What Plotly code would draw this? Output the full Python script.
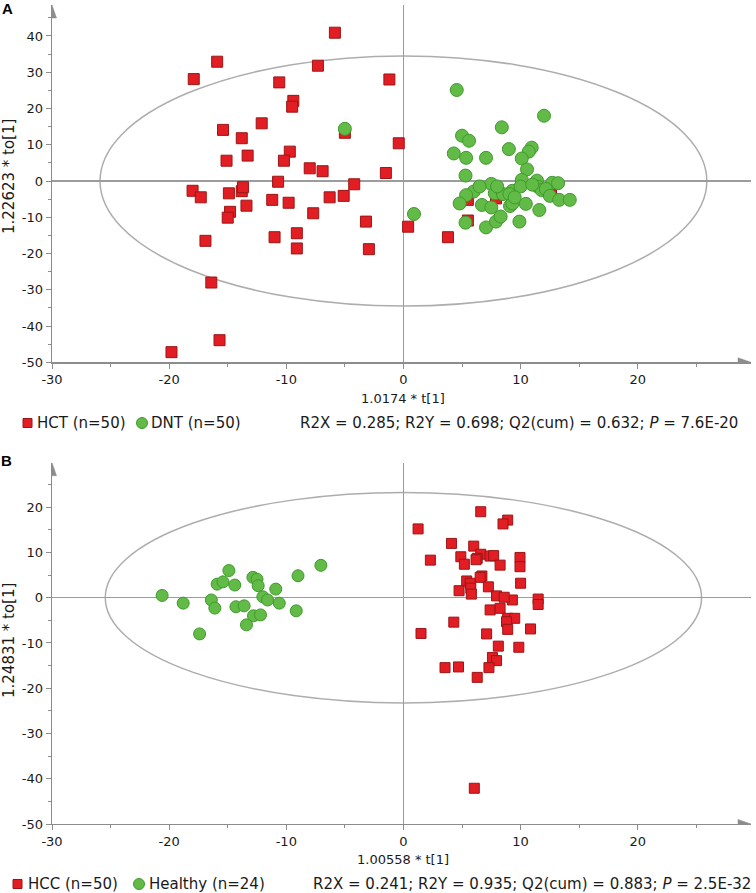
import plotly.graph_objects as go

# ---------------- data ----------------
hct_x = [-17.9, -15.9, -5.85, -7.3, -10.6, -9.4, -9.5, -1.2, -15.4, -12.1,
         -13.8, -13.3, -15.1, -9.7, -10.2, -8.0, -6.9, -1.5, -0.4, -5.0,
         -10.7, -4.2, -18.0, -17.3, -14.9, -13.8, -13.7, -14.8, -15.0, -13.4,
         -11.2, -9.8, -7.7, -6.3, -5.1, -3.2, -2.95, -16.9, -11.0, -9.1,
         -9.1, -16.4, -15.7, -19.8, 0.4, 3.8, 5.5, 7.9, 5.5, 12.6]
hct_y = [28.1, 32.9, 40.9, 31.8, 27.2, 22.1, 20.5, 28.0, 14.1, 15.9,
         11.8, 7.0, 5.6, 8.1, 5.6, 3.5, 2.7, 2.2, 10.4, 13.3,
         -0.2, -0.9, -2.7, -4.5, -3.4, -2.8, -1.7, -8.5, -10.1, -6.8,
         -5.2, -6.0, -8.9, -4.5, -4.1, -11.2, -18.8, -16.5, -15.5, -14.4,
         -18.6, -28.0, -43.9, -47.2, -12.6, -15.5, -5.2, -4.8, -10.9, -3.9]

dnt_x = [4.55, 12.0, 8.4, 5.0, 5.6, 4.3, 5.35, 7.05, 9.0, 10.95,
         10.7, 10.1, 10.55, 5.3, 10.1, 7.5, 11.4, 12.7, 13.2, -5.0,
         6.0, 5.35, 7.8, 8.5, 9.3, 9.05, 10.0, 11.5, 11.8, 12.15,
         12.5, 13.3, 14.2, 4.8, 6.7, 7.5, 9.1, 9.3, 10.45, 11.6,
         0.9, 5.3, 7.05, 7.9, 8.3, 9.9, 8.0, 9.5, 11.0, 6.5]
dnt_y = [25.1, 18.0, 14.8, 12.5, 11.1, 7.6, 6.4, 6.4, 8.8, 9.2,
         8.1, 6.2, 3.2, 1.5, 0.3, -0.8, 0.1, -0.5, -0.6, 14.4,
         -2.9, -3.9, -3.4, -3.6, -2.7, -3.6, -1.5, -1.6, -2.5, -2.2,
         -4.1, -5.2, -5.2, -6.2, -6.6, -7.3, -6.9, -6.2, -6.3, -8.0,
         -9.1, -11.5, -12.8, -11.2, -9.8, -11.2, -1.5, -4.5, -1.0, -1.5]

hcc_x = [6.6, 8.9, 8.5, 1.25, 4.1, 6.0, 4.9, 6.6, 6.3, 7.4,
         7.7, 5.2, 8.25, 9.95, 9.95, 2.3, 6.7, 6.55, 5.4, 5.7,
         10.0, 7.25, 4.75, 5.75, 5.8, 7.95, 9.3, 11.5, 11.5, 7.4,
         8.25, 8.9, 9.5, 8.8, 4.3, 8.9, 10.85, 1.5, 7.1, 8.1,
         9.85, 7.6, 7.95, 7.3, 3.55, 4.7, 6.3, 6.05, 6.2, 8.6]
hcc_y = [19.0, 17.15, 16.3, 15.2, 12.0, 11.4, 9.05, 9.6, 8.7, 9.2,
         9.3, 7.4, 7.2, 8.9, 6.85, 8.3, 4.8, 4.5, 3.7, 3.2,
         3.2, 2.4, 1.55, 2.1, 0.8, 0.4, -0.5, -0.3, -1.5, -2.7,
         -2.35, -4.55, -4.55, -5.3, -5.4, -7.0, -6.9, -7.9, -8.0, -10.7,
         -10.95, -13.2, -13.9, -15.45, -15.45, -15.3, -17.6, -42.1, 8.4, 0.1]

healthy_x = [-20.6, -18.8, -17.4, -16.4, -16.1, -15.9, -15.4, -14.9, -14.4, -14.3,
             -13.6, -12.8, -12.2, -13.4, -12.85, -12.5, -12.4, -12.0, -11.6, -10.6,
             -10.9, -9.15, -9.0, -7.05]
healthy_y = [0.5, -1.2, -8.0, -0.5, -2.3, 3.0, 3.5, 6.0, 2.8, -2.0,
             -1.8, -4.0, -3.8, -6.0, 4.5, 4.1, 2.65, 0.2, -0.5, -1.2,
             1.9, -2.9, 4.85, 7.15]

x_ticks = [-30, -20, -10, 0, 10, 20]
ya_ticks = [-50, -40, -30, -20, -10, 0, 10, 20, 30, 40]
yb_ticks = [-50, -40, -30, -20, -10, 0, 10, 20]

ellipse_a = (25.9, 34.5)   # Hotelling T2 semi-axes, panel A
ellipse_b = (25.45, 23.25)  # panel B

stats_a = "R2X = 0.285; R2Y = 0.698; Q2(cum) = 0.632; <i>P</i> = 7.6E-20"
stats_b = "R2X = 0.241; R2Y = 0.935; Q2(cum) = 0.883; <i>P</i> = 2.5E-32"

# ---------------- style ----------------
W, H = 756, 893
FONT = "DejaVu Sans"
RED, RED_EDGE = "#e21d23", "#9c1616"
GREEN, GREEN_EDGE = "#62bb46", "#3f9a2d"
AXIS_C = "#8c8c8c"
ZERO_C = "#9c9c9c"
ELL_C = "#adadad"

def px(x):
    return x / W

def py(y):
    return (H - y) / H

fig = go.Figure()

fig.add_trace(go.Scatter(x=hct_x, y=hct_y, mode="markers", xaxis="x", yaxis="y",
                         marker=dict(symbol="square", size=11, color=RED,
                                     line=dict(color=RED_EDGE, width=1)),
                         name="HCT (n=50)", showlegend=False))
fig.add_trace(go.Scatter(x=dnt_x, y=dnt_y, mode="markers", xaxis="x", yaxis="y",
                         marker=dict(symbol="circle", size=13, color=GREEN,
                                     line=dict(color=GREEN_EDGE, width=1)),
                         name="DNT (n=50)", showlegend=False))
fig.add_trace(go.Scatter(x=hcc_x, y=hcc_y, mode="markers", xaxis="x2", yaxis="y2",
                         marker=dict(symbol="square", size=10, color=RED,
                                     line=dict(color=RED_EDGE, width=1)),
                         name="HCC (n=50)", showlegend=False))
fig.add_trace(go.Scatter(x=healthy_x, y=healthy_y, mode="markers", xaxis="x2", yaxis="y2",
                         marker=dict(symbol="circle", size=12, color=GREEN,
                                     line=dict(color=GREEN_EDGE, width=1)),
                         name="Healthy (n=24)", showlegend=False))

xdom = [px(52), px(751)]
xrange_ = [-30, 29.67]
ya_dom = [py(362.3), py(5)]
ya_range = [-50, 48.54]
yb_dom = [py(824), py(462.7)]
yb_range = [-50, 29.83]

tickfont = dict(family=FONT, size=13, color="#1a1a1a")

def labels(vals):
    return [str(v) for v in vals]  # plain hyphen minus, as in the reference

def xax(anchor):
    return dict(domain=xdom, range=xrange_, anchor=anchor,
                tickmode="array", tickvals=x_ticks, ticktext=labels(x_ticks),
                showgrid=False, zeroline=True, zerolinecolor=ZERO_C, zerolinewidth=1.2,
                showline=True, linecolor=AXIS_C, linewidth=1.3,
                ticks="outside", ticklen=5, tickcolor=AXIS_C, tickwidth=1,
                minor=dict(dtick=5, tick0=0, ticks="outside", ticklen=3, tickcolor=AXIS_C, showgrid=False),
                tickfont=tickfont, fixedrange=True, automargin=False)

def yax(anchor, dom, rng, tv):
    return dict(domain=dom, range=rng, anchor=anchor,
                tickmode="array", tickvals=tv, ticktext=labels(tv),
                showgrid=False, zeroline=True, zerolinecolor=ZERO_C, zerolinewidth=1.2,
                showline=True, linecolor=AXIS_C, linewidth=1.3,
                ticks="outside", ticklen=5, tickcolor=AXIS_C, tickwidth=1,
                minor=dict(dtick=5, tick0=0, ticks="outside", ticklen=3, tickcolor=AXIS_C, showgrid=False),
                tickfont=tickfont, fixedrange=True, automargin=False)

fig.update_layout(
    width=W, height=H,
    margin=dict(l=0, r=0, t=0, b=0),
    paper_bgcolor="white", plot_bgcolor="white",
    font=dict(family=FONT, size=13, color="#1a1a1a"),
    showlegend=False,
    hovermode=False,
    xaxis=xax("y"),
    yaxis=yax("x", ya_dom, ya_range, ya_ticks),
    xaxis2=xax("y2"),
    yaxis2=yax("x2", yb_dom, yb_range, yb_ticks),
)

shapes = []
# Hotelling ellipses
for (xr, yr), (ax_x, ax_y) in [((ellipse_a), ("x", "y")), ((ellipse_b), ("x2", "y2"))]:
    shapes.append(dict(type="circle", xref=ax_x, yref=ax_y, x0=-xr, x1=xr, y0=-yr, y1=yr,
                       line=dict(color=ELL_C, width=1.5), layer="below"))

# axis arrowheads
for ax_x, ax_y, ytop in [("x", "y", ya_range[1]), ("x2", "y2", yb_range[1])]:
    shapes.append(dict(type="path", xref=ax_x, yref=ax_y, xsizemode="pixel", ysizemode="pixel",
                       xanchor=xrange_[1], yanchor=-50, path="M-13,-4.5 L0,0 L-13,4.5 Z",
                       fillcolor=AXIS_C, line=dict(color=AXIS_C, width=0.5)))
    shapes.append(dict(type="path", xref=ax_x, yref=ax_y, xsizemode="pixel", ysizemode="pixel",
                       xanchor=-30, yanchor=ytop, path="M-4.5,-13 L0,0 L4.5,-13 Z",
                       fillcolor=AXIS_C, line=dict(color=AXIS_C, width=0.5)))

# legend symbols
def leg_square(cx, cy, s):
    shapes.append(dict(type="rect", xref="paper", yref="paper",
                       x0=px(cx - s / 2), x1=px(cx + s / 2), y0=py(cy + s / 2), y1=py(cy - s / 2),
                       fillcolor=RED, line=dict(color=RED_EDGE, width=1)))

def leg_circle(cx, cy, d):
    shapes.append(dict(type="circle", xref="paper", yref="paper",
                       x0=px(cx - d / 2), x1=px(cx + d / 2), y0=py(cy + d / 2), y1=py(cy - d / 2),
                       fillcolor=GREEN, line=dict(color=GREEN_EDGE, width=1)))

leg_square(27.5, 423, 9)
leg_circle(142, 423, 11)
leg_square(17.5, 884, 9)
leg_circle(139, 884, 11)

fig.update_layout(shapes=shapes)

LEGF = dict(family=FONT, size=15, color="#1a1a1a")
ann = []
def text(x, y, s, xanchor="left", font=LEGF, **kw):
    ann.append(dict(x=px(x), y=py(y), xref="paper", yref="paper", text=s, showarrow=False,
                    xanchor=xanchor, yanchor="middle", font=font, borderpad=0, **kw))

# panel letters
text(1, 8, "<b>A</b>", font=dict(family="Liberation Sans", size=15, color="#000"))
text(0, 460, "<b>B</b>", font=dict(family="Liberation Sans", size=15, color="#000"))

# axis titles
TF = dict(family=FONT, size=13, color="#1a1a1a")
YTF = dict(family=FONT, size=15, color="#1a1a1a")
text(403.3, 398, "1.0174 * t[1]", xanchor="center", font=TF)
text(403.3, 859, "1.00558 * t[1]", xanchor="center", font=TF)
text(9, 177, "1.22623 * to[1]", xanchor="center", font=YTF, textangle=-90)
text(9, 641, "1.24831 * to[1]", xanchor="center", font=YTF, textangle=-90)

# legends
text(36, 423, "HCT (n=50)")
text(150, 423, "DNT (n=50)")
text(739, 423, stats_a, xanchor="right")
text(27, 884, "HCC (n=50)")
text(148, 884, "Healthy (n=24)")
text(752, 884, stats_b, xanchor="right")

fig.update_layout(annotations=ann)

fig.write_html("out.html",
               config={"displayModeBar": False, "staticPlot": True},
               post_script="document.body.style.margin='0';document.body.style.overflow='hidden';")
